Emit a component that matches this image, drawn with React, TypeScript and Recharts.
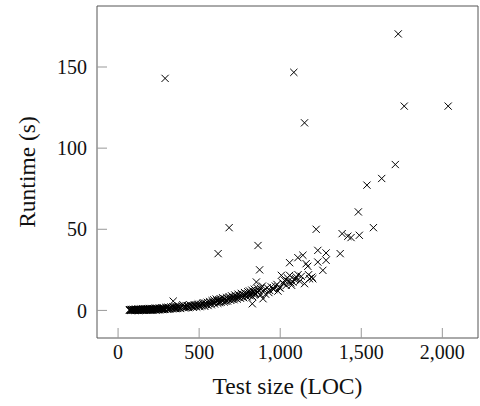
import { Scatter, ScatterChart, XAxis, YAxis } from 'recharts'

// test size in LOC vs. runtime in seconds
const locValues: number[] = [
  70, 75, 80, 85, 90, 95, 100, 105, 110, 115, 120, 125, 130, 135, 140, 145, 150, 155, 160, 165,
  170, 175, 180, 185, 190, 195, 200, 205, 210, 215, 220, 225, 230, 240, 245, 250, 260, 265, 270, 280,
  285, 290, 300, 310, 315, 320, 330, 340, 345, 350, 360, 370, 380, 390, 400, 405, 410, 420, 430, 440,
  450, 455, 460, 470, 480, 490, 500, 510, 515, 520, 530, 540, 545, 550, 560, 565, 570, 580, 585, 590,
  600, 605, 610, 617, 620, 625, 630, 640, 645, 650, 660, 665, 670, 680, 685, 685, 690, 700, 705, 710,
  720, 725, 730, 740, 745, 750, 760, 765, 770, 780, 785, 790, 800, 805, 810, 820, 825, 828, 830, 835,
  840, 845, 850, 853, 860, 863, 863, 873, 880, 894, 910, 920, 935, 955, 970, 986, 995, 1007, 1015, 1027,
  1037, 1045, 1058, 1058, 1065, 1078, 1084, 1090, 1099, 1109, 1110, 1120, 1140, 1150, 1150, 1160, 1170, 1181, 1201, 1222,
  1232, 1232, 1263, 1283, 1283, 1370, 1382, 1417, 1437, 1482, 1488, 1535, 1575, 1626, 1710, 1728, 1765, 2036, 290,
  // second pass over the dense band
  72, 78, 83, 88, 93, 98, 103, 108, 113, 118, 123, 128, 133, 138, 143, 148, 153, 158, 163, 168,
  173, 178, 183, 188, 193, 198, 203, 208, 213, 218, 223, 228, 235, 238, 248, 255, 258, 268, 275, 278,
  288, 295, 305, 308, 318, 325, 335, 338, 355, 358, 365, 375, 385, 395, 415, 425, 435, 445, 465, 475,
  485, 495, 505, 525, 535, 555, 575, 595, 615, 635, 655, 675, 695, 715, 735, 755, 775, 795, 815, 838,
  848, 858, 868, 878, 890, 900, 930, 945, 960, 980, 1000, 1020, 1050, 1070, 1095, 1130, 1175, 1195,
]

const runtimeValues: number[] = [
  0.1, 0.2, 0.1, 0.3, 0.2, 0.1, 0.4, 0.2, 0.3, 0.1, 0.5, 0.2, 0.3, 0.4, 0.2, 0.6, 0.3, 0.4, 0.2, 0.5,
  0.4, 0.7, 0.3, 0.5, 0.6, 0.4, 0.8, 0.5, 0.6, 0.4, 0.9, 0.7, 0.5, 1.0, 0.6, 0.8, 1.1, 0.7, 0.9, 1.2,
  0.8, 1.0, 1.3, 0.9, 1.4, 1.1, 1.6, 5.7, 1.2, 1.8, 1.4, 2.0, 1.6, 2.2, 3.5, 1.8, 2.4, 2.0, 2.6, 2.2,
  3.0, 2.4, 2.8, 3.2, 2.6, 3.4, 3.0, 3.8, 2.8, 4.2, 3.5, 4.5, 3.8, 5.0, 4.2, 5.5, 4.6, 6.0, 5.0, 6.5,
  5.4, 7.0, 5.8, 35, 6.5, 4.8, 7.2, 6.0, 7.8, 6.4, 7.0, 5.6, 8.0, 6.8, 8.5, 51, 7.4, 9.0, 7.0, 8.2,
  9.5, 7.6, 8.8, 10.0, 8.0, 9.2, 10.5, 8.6, 9.8, 11.0, 9.0, 10.2, 11.5, 9.5, 12.0, 10.5, 12.5, 4.1, 8.5, 11.5,
  13.0, 10.0, 12.0, 17.5, 11.0, 13.4, 40, 25, 9.5, 7.2, 10.0, 14.0, 12.3, 13.4, 15.0, 11.9, 14.0, 21.6, 17.0, 18.5,
  15.4, 20.0, 21.6, 29.4, 17.0, 17.5, 146.7, 19.0, 20.6, 32.5, 22.0, 18.0, 34.0, 16.5, 115.6, 28.8, 27.2, 19.5, 19.5, 50,
  37, 29.8, 24.7, 35.4, 30.9, 35, 47.3, 45.7, 44.9, 60.7, 46.3, 77.2, 51, 81.3, 89.9, 170.4, 125.9, 125.9, 143,
  0.5, 0.0, 0.6, 0.1, 0.7, 0.5, 0.0, 0.8, 0.6, 0.2, 0.9, 0.0, 0.7, 0.1, 0.8, 0.3, 1.0, 0.1, 0.9, 0.2,
  1.1, 0.3, 1.0, 0.1, 1.2, 0.2, 0.3, 1.2, 0.1, 1.1, 0.4, 1.3, 0.2, 1.4, 0.3, 1.5, 0.4, 1.6, 0.5, 1.7,
  0.6, 1.8, 0.7, 2.0, 0.8, 2.1, 1.0, 2.2, 1.1, 2.4, 1.2, 2.6, 1.3, 2.8, 1.5, 3.0, 1.7, 3.3, 1.9, 3.6,
  2.1, 3.9, 2.3, 4.8, 2.5, 3.0, 3.5, 4.0, 4.4, 5.0, 5.2, 5.8, 6.2, 6.6, 7.0, 7.5, 7.8, 8.4, 9.0, 9.8,
  10.5, 11.2, 12.0, 13.5, 15.0, 12.5, 11.0, 14.5, 13.0, 16.0, 13.8, 16.5, 18.0, 15.5, 19.5, 21.0, 22.0, 20.5,
]

const xTicks = [0, 500, 1000, 1500, 2000]
const yTicks = [0, 50, 100, 150]

const points = locValues.map((loc, i) => ({ loc, runtime: runtimeValues[i] }))

const X_DOMAIN: [number, number] = [-130, 2220]
const Y_DOMAIN: [number, number] = [-17, 187.6]

const FONT = 'Liberation Serif'
const axisLine = { stroke: '#555', strokeWidth: 1 }
const tickLine = { stroke: '#999', strokeWidth: 1 }
const tickFont = { fontSize: 20, fill: '#111', fontFamily: FONT }

function Cross(props: any) {
  const { cx, cy } = props
  const r = 3.6
  return (
    <path
      d={`M${cx - r},${cy - r}L${cx + r},${cy + r}M${cx - r},${cy + r}L${cx + r},${cy - r}`}
      stroke="#000"
      strokeWidth={1}
      fill="none"
    />
  )
}

export default function App() {
  return (
    <div style={{ position: 'absolute', left: 0, top: 0, fontFamily: FONT, background: '#fff' }}>
      <ScatterChart width={480} height={406} margin={{ top: 5, right: 1, left: 0, bottom: 0 }}>
        <XAxis
          xAxisId="bottom"
          dataKey="loc"
          type="number"
          domain={X_DOMAIN}
          ticks={xTicks}
          allowDataOverflow
          height={68}
          axisLine={axisLine}
          tickLine={tickLine}
          tickSize={-10}
          tickMargin={17}
          tick={tickFont}
          tickFormatter={(v: number) => v.toLocaleString('en-US')}
          label={{
            value: 'Test size (LOC)',
            position: 'insideBottom',
            offset: 12,
            fontSize: 23.5,
            fontFamily: FONT,
            fill: '#111',
          }}
        />
        <XAxis
          xAxisId="top"
          orientation="top"
          type="number"
          domain={X_DOMAIN}
          ticks={xTicks}
          allowDataOverflow
          height={1}
          axisLine={axisLine}
          tickLine={tickLine}
          tickSize={-10}
          tick={false}
        />
        <YAxis
          yAxisId="left"
          dataKey="runtime"
          type="number"
          domain={Y_DOMAIN}
          ticks={yTicks}
          allowDataOverflow
          width={97}
          axisLine={axisLine}
          tickLine={tickLine}
          tickSize={-10}
          tickMargin={20}
          tick={tickFont}
          label={{
            value: 'Runtime (s)',
            angle: -90,
            position: 'insideLeft',
            offset: 27,
            fontSize: 23.5,
            fontFamily: FONT,
            fill: '#111',
            style: { textAnchor: 'middle' },
          }}
        />
        <YAxis
          yAxisId="right"
          orientation="right"
          type="number"
          domain={Y_DOMAIN}
          ticks={yTicks}
          allowDataOverflow
          width={1}
          axisLine={axisLine}
          tickLine={tickLine}
          tickSize={-10}
          tick={false}
        />
        <Scatter
          data={points}
          xAxisId="bottom"
          yAxisId="left"
          shape={Cross}
          isAnimationActive={false}
        />
      </ScatterChart>
    </div>
  )
}
